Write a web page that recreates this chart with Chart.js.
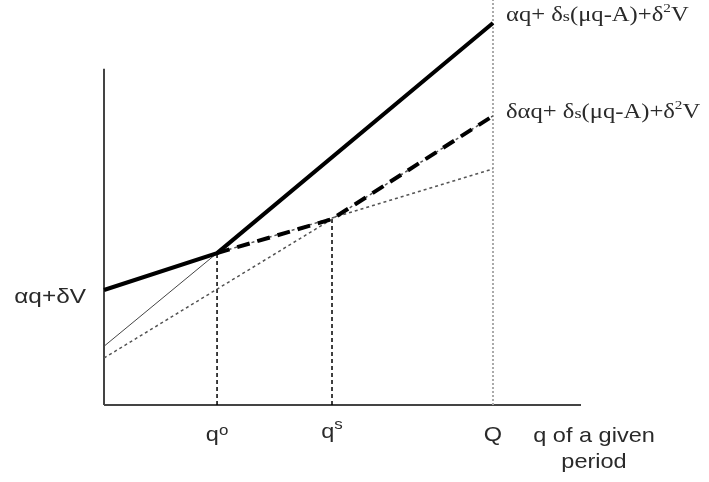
<!DOCTYPE html>
<html>
<head>
<meta charset="utf-8">
<script src="https://cdn.jsdelivr.net/npm/chart.js@4.4.1/dist/chart.umd.min.js"></script>
<style>
  html, body { margin: 0; padding: 0; background: #fff; }
  #wrap { width: 709px; height: 482px; }
</style>
</head>
<body>
<div id="wrap"><canvas id="myChart"></canvas></div>
<script>
// positions on the q axis: q°, q^s, Q
const qTicks = [2.37, 4.78, 8.155];
const tickLabels = ['q', 'q', 'Q'];
const tickSups = ['o', 's', ''];
const xAxisEnd = 10;
const yAxisTop = 8.3;

// αq+δV up to q°, then αq+δs(μq-A)+δ²V up to Q
const upperX = [0, 2.37, 8.155];
const upperY = [2.84, 3.75, 9.43];
// steep line continued back to the axis (thin)
const steepX = [0, 2.37];
const steepY = [1.45, 3.75];
// αq+δV continued past q° (dotted)
const flatX = [2.37, 8.155];
const flatY = [3.75, 5.83];
// δαq+δs(μq-A)+δ²V (dotted)
const lowerX = [0, 4.78, 8.155];
const lowerY = [1.16, 4.59, 7.14];
// bold dashed envelope
const envX = [2.37, 4.78, 8.155];
const envY = [3.75, 4.59, 7.14];
// heights where the vertical guides stop
const guideTops = [3.75, 4.59, 10];

const leftLabel = 'αq+δV';
const axisTitle = ['q of a given', 'period'];
const upperFormula = [['αq+ δ', ''], ['s', 'sub'], ['(μq-A)+δ', ''], ['2', 'sup'], ['V', '']];
const lowerFormula = [['δαq+ δ', ''], ['s', 'sub'], ['(μq-A)+δ', ''], ['2', 'sup'], ['V', '']];

function pts(xs, ys) {
    return xs.map((x, i) => ({ x: x, y: ys[i] }));
}

function line(data, color, width, dash) {
    return {
        data: data,
        borderColor: color,
        borderWidth: width,
        borderDash: dash || [],
        pointRadius: 0,
        fill: false,
        tension: 0,
        clip: false
    };
}

const datasets = [
    line(pts(upperX, upperY), '#000', 4),
    line(pts(envX, envY), '#000', 4, [13, 8]),
    line(pts(steepX, steepY), '#444', 1),
    line(pts(flatX, flatY), '#555', 1.5, [3, 3]),
    line(pts(lowerX, lowerY), '#555', 1.5, [3, 3]),
    line(pts([qTicks[0], qTicks[0]], [0, guideTops[0]]), '#000', 1.5, [4, 3]),
    line(pts([qTicks[1], qTicks[1]], [0, guideTops[1]]), '#000', 1.5, [4, 3]),
    line(pts([qTicks[2], qTicks[2]], [0, guideTops[2]]), '#aaa', 2, [2, 2]),
    line(pts([0, 0], [0, yAxisTop]), '#444', 2),
    line(pts([0, xAxisEnd], [0, 0]), '#444', 2)
];

function drawRich(ctx, parts, px, py, size, family, stretch, align, sup) {
    sup = sup || { scale: 0.62, raise: 0.45 };
    const sizeFor = kind => kind === 'sub' ? size * 0.75 : kind === 'sup' ? size * sup.scale : size;
    let total = 0;
    parts.forEach(p => {
        ctx.font = sizeFor(p[1]) + 'px ' + family;
        total += ctx.measureText(p[0]).width;
    });
    total *= stretch;
    let start = px;
    if (align === 'center') start = px - total / 2;
    if (align === 'right') start = px - total;
    ctx.save();
    ctx.translate(start, py);
    ctx.scale(stretch, 1);
    ctx.textAlign = 'left';
    ctx.textBaseline = 'alphabetic';
    let cx = 0;
    parts.forEach(p => {
        ctx.font = sizeFor(p[1]) + 'px ' + family;
        const dy = p[1] === 'sup' ? -size * sup.raise : 0;
        ctx.fillText(p[0], cx, dy);
        cx += ctx.measureText(p[0]).width;
    });
    ctx.restore();
}

const SANS = '"Liberation Sans", Arial, sans-serif';
const SERIF = '"Liberation Serif", "Times New Roman", serif';

const textPlugin = {
    id: 'texts',
    afterDraw(chart) {
        const ctx = chart.ctx;
        const x = chart.scales.x;
        const y = chart.scales.y;
        ctx.fillStyle = '#2a2a2a';
        const base = y.getPixelForValue(0);

        // tick labels under the q axis
        qTicks.forEach((q, i) => {
            const parts = [[tickLabels[i], '']];
            if (tickSups[i]) parts.push([tickSups[i], 'sup']);
            const raise = tickSups[i] === 's' ? 0.42 : 0.3;
            drawRich(ctx, parts, x.getPixelForValue(q), base + (tickSups[i] === 's' ? 33 : 36),
                21, SANS, 1.12, 'center', { scale: 0.72, raise: raise });
        });

        // axis title
        const tx = x.getPixelForValue(xAxisEnd) + 13;
        drawRich(ctx, [[axisTitle[0], '']], tx, base + 37, 21, SANS, 1.12, 'center');
        drawRich(ctx, [[axisTitle[1], '']], tx, base + 63, 21, SANS, 1.12, 'center');

        // intercept label
        drawRich(ctx, [[leftLabel, '']], x.getPixelForValue(0) - 18, y.getPixelForValue(upperY[0]) + 13,
            20, SANS, 1.22, 'right');

        // formulas at Q
        const fx = x.getPixelForValue(qTicks[2]) + 13;
        drawRich(ctx, upperFormula, fx, y.getPixelForValue(upperY[2]) - 2, 20.5, SERIF, 1.2, 'left');
        drawRich(ctx, lowerFormula, fx, y.getPixelForValue(envY[2]) + 2, 20.5, SERIF, 1.2, 'left');
    }
};

const ctx = document.getElementById('myChart').getContext('2d');
new Chart(ctx, {
    type: 'line',
    data: { datasets: datasets },
    options: {
        responsive: true,
        maintainAspectRatio: false,
        animation: false,
        layout: { padding: { left: 104, right: 128, top: 0, bottom: 77 } },
        scales: {
            x: { type: 'linear', display: false, min: 0, max: xAxisEnd },
            y: { type: 'linear', display: false, min: 0, max: 10 }
        },
        plugins: {
            legend: { display: false },
            tooltip: { enabled: false }
        }
    },
    plugins: [textPlugin]
});
</script>
</body>
</html>
